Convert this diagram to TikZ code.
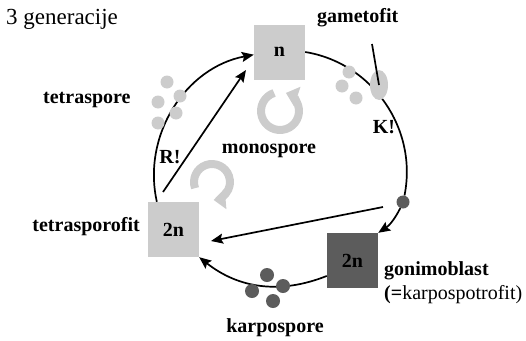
\documentclass[tikz,border=0pt]{standalone}
\usepackage{fontspec}
\setmainfont{Liberation Serif}
\usetikzlibrary{arrows.meta,shapes.geometric}
\definecolor{lightspore}{gray}{0.8}
\definecolor{darkspore}{gray}{0.36}
\tikzset{
  genbox/.style={rectangle, fill=#1, minimum width=51pt, minimum height=55pt, inner sep=0pt, font=\fontsize{20}{24}\selectfont\bfseries},
  cyc/.style={line width=1.7pt, -{Stealth[length=12pt,width=10pt,inset=2pt]}},
  lbl/.style={inner sep=0pt, font=\fontsize{20}{24}\selectfont\bfseries},
  spin/.style={line width=8pt, draw=lightspore, -{Triangle[length=12pt,width=20pt]}}
}
\begin{document}
\begin{tikzpicture}[x=1pt,y=1pt]
\useasboundingbox (0,0) rectangle (526,-340);
\node[anchor=base west, inner sep=0pt, font=\fontsize{23}{27}\selectfont] (title) at (6,-24) {3 generacije};
\node[genbox=lightspore] (ngen) at (279.5,-52) {n};
\node[genbox=lightspore] (tgen) at (173.5,-229.5) {2n};
\node[genbox=darkspore] (cgen) at (352.5,-260.5) {2n};
\node[circle, fill=darkspore, minimum size=13pt, inner sep=0pt] (kdot) at (403,-202) {};
\draw[cyc] (tgen.121) to[bend left=46] (ngen.186);
\draw[line width=1.7pt] (ngen.east) to[bend left=46] (kdot);
\draw[cyc] (kdot) to[bend left=15] (cgen.north east);
\draw[cyc] (cgen.211) to[bend left=30] (tgen.south east);
\coordinate (rfoot) at (163,-192);
\coordinate (rtip) at (246,-70);
\coordinate (kfoot) at (383,-207);
\coordinate (ktip) at (211,-241);
\draw[cyc] (rfoot) -- (rtip);
\draw[cyc] (kfoot) -- (ktip);
\foreach \x/\y in {167/82,180/96,158/102,176/113,158/123,349/72,342/86,356/98}
  \fill[lightspore] (\x,-\y) circle (6.5pt);
\foreach \x/\y in {267/275,283/286,252/291,273/301}
  \fill[darkspore] (\x,-\y) circle (7pt);
\node[ellipse, fill=lightspore, minimum width=18pt, minimum height=30pt, inner sep=0pt] (gam) at (379,-85) {};
\coordinate (gtop) at (372,-44);
\draw[line width=1.7pt] (gtop) -- (gam.center);
\draw[spin] ([shift={(108:19pt)}]280,-111) arc[start angle=108, end angle=432, radius=19pt];
\draw[spin] ([shift={(200:18pt)}]212,-182) arc[start angle=200, end angle=-85, radius=18pt];
\node[lbl, anchor=base west] (gamlbl) at (317,-22) {gametofit};
\node[lbl, anchor=base west] (tetlbl) at (43,-103) {tetraspore};
\node[lbl, anchor=base east] (tsplbl) at (140,-231) {tetrasporofit};
\node[lbl, anchor=base] (monlbl) at (269,-153) {monospore};
\node[lbl, anchor=base] (rlbl) at (170,-163) {R!};
\node[lbl, anchor=base] (klbl) at (384,-133) {K!};
\node[lbl, anchor=base west] (gonlbl) at (384,-275) {gonimoblast};
\node[anchor=base west, inner sep=0pt, font=\fontsize{20}{24}\selectfont] (karlbl) at (384,-299) {\textbf{(=}karpospotrofit)};
\node[lbl, anchor=base] (kaslbl) at (275,-332) {karpospore};
\end{tikzpicture}
\end{document}
